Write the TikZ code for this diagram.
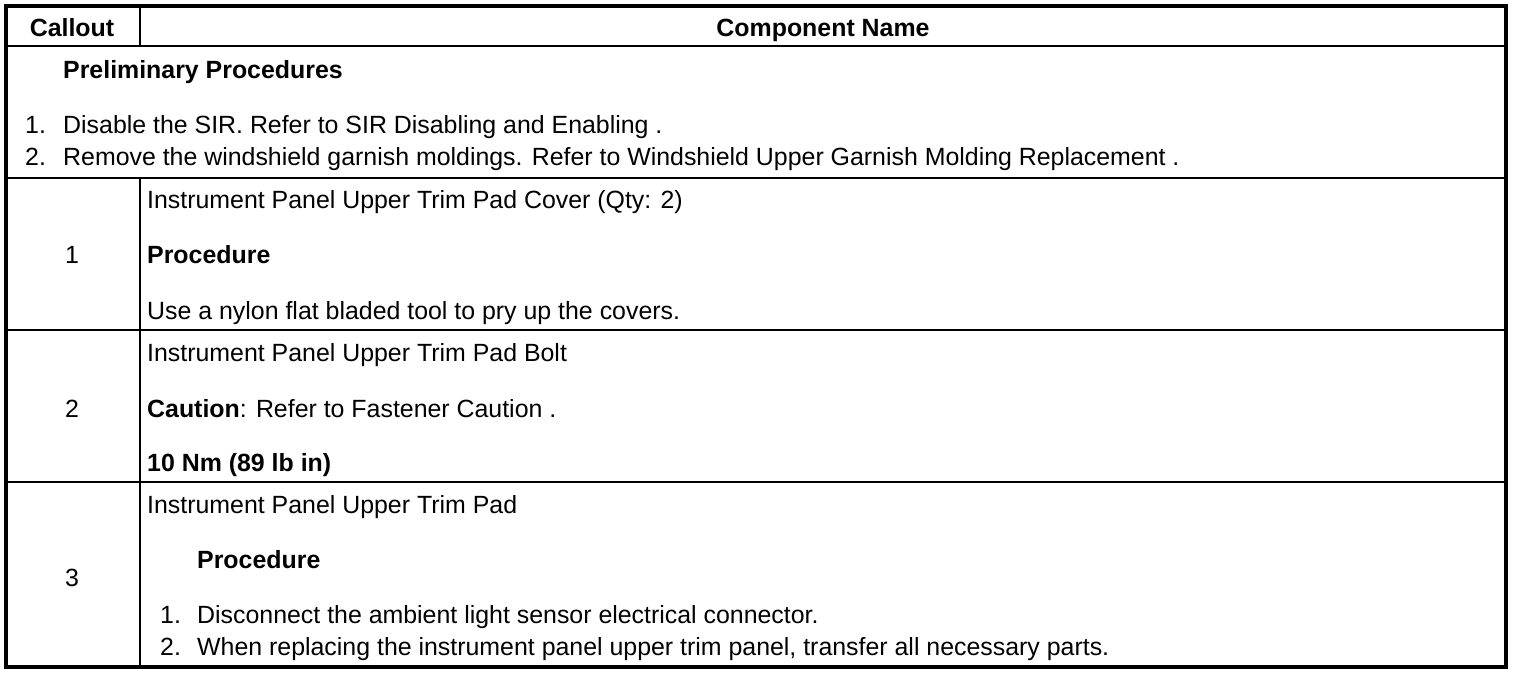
\documentclass[tikz,border=0pt]{standalone}
\usepackage{fontspec}
\setmainfont{Liberation Sans}
\begin{document}
\begin{tikzpicture}[x=1pt,y=-1pt,
  txt/.style={inner sep=0pt,anchor=base west,font=\fontsize{24.9}{30}\selectfont},
  ctr/.style={inner sep=0pt,anchor=base,font=\fontsize{24.9}{30}\selectfont},
  outer/.style={line width=3.6pt},
  rule/.style={line width=1.5pt}]
\useasboundingbox (0,0) rectangle (1520,676);
% grid
\draw[rule] (5,46) -- (1506,46);
\draw[rule] (5,178) -- (1506,178);
\draw[rule] (5,330) -- (1506,330);
\draw[rule] (5,482) -- (1506,482);
\draw[rule] (140,5) -- (140,46);
\draw[rule] (140,178) -- (140,667);
\draw[outer] (5.8,5.8) rectangle (1506,667);
% header
\node[ctr] (hcall) at (72,37) {\bfseries Callout};
\node[ctr] (hname) at (823,37) {\bfseries Component Name};
% preliminary
\node[txt] (pre) at (63,79) {\bfseries Preliminary Procedures};
\node[txt] (p1n) at (25,134) {1.};
\node[txt] (p1) at (63,134) {Disable the SIR. Refer to SIR Disabling and Enabling .};
\node[txt] (p2n) at (25,166) {2.};
\node[txt] (p2) at (63,166) {Remove the windshield garnish moldings. Refer to Windshield Upper Garnish Molding Replacement .};
% row 1
\node[ctr] (c1) at (72,264) {1};
\node[txt] (r1a) at (147,209) {Instrument Panel Upper Trim Pad Cover (Qty: 2)};
\node[txt] (r1b) at (147,264) {\bfseries Procedure};
\node[txt] (r1c) at (147,319) {Use a nylon flat bladed tool to pry up the covers.};
% row 2
\node[ctr] (c2) at (72,417) {2};
\node[txt] (r2a) at (147,361) {Instrument Panel Upper Trim Pad Bolt};
\node[txt] (r2b) at (147,417) {\textbf{Caution}: Refer to Fastener Caution .};
\node[txt] (r2c) at (147,471) {\bfseries 10 Nm (89 lb in)};
% row 3
\node[ctr] (c3) at (72,586) {3};
\node[txt] (r3a) at (147,513) {Instrument Panel Upper Trim Pad};
\node[txt] (r3b) at (197,568) {\bfseries Procedure};
\node[txt] (r3n1) at (160,623) {1.};
\node[txt] (r3c) at (197,623) {Disconnect the ambient light sensor electrical connector.};
\node[txt] (r3n2) at (160,655) {2.};
\node[txt] (r3d) at (197,655) {When replacing the instrument panel upper trim panel, transfer all necessary parts.};
\end{tikzpicture}
\end{document}
